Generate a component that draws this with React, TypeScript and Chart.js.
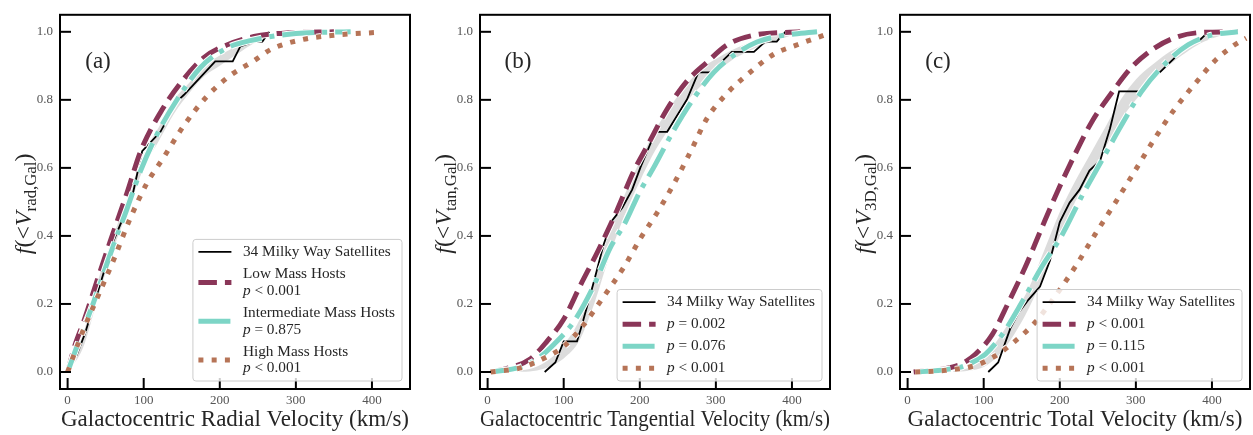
import React, { useEffect, useRef } from 'react';
import { Chart, registerables } from 'chart.js';
Chart.register(...registerables);

// ---------- shared axis data ----------
const X_MIN = -10;
const X_MAX = 450;
const Y_MIN = -0.05;
const Y_MAX = 1.05;
const X_STEP = 100;
const Y_STEP = 0.2;

// ---------- panel (a): radial velocity ----------
const radObsV = [0, 12, 23, 47, 60, 85, 98, 122, 144, 153, 194, 217, 227, 245, 256, 265];
const radObsF = [0, 0.05, 0.114, 0.289, 0.384, 0.517, 0.649, 0.706, 0.796, 0.815, 0.913, 0.913, 0.957, 0.971, 0.971, 1.0];
const radLowV = [0, 10, 21, 39, 56, 78, 96, 122, 148, 179, 210, 245, 290, 350];
const radLowF = [0, 0.081, 0.147, 0.27, 0.384, 0.526, 0.649, 0.763, 0.848, 0.924, 0.962, 0.986, 0.997, 1.0];
const radIntV = [0, 17, 34, 56, 78, 96, 118, 144, 175, 210, 240, 300, 372];
const radIntF = [0, 0.104, 0.204, 0.346, 0.479, 0.592, 0.701, 0.801, 0.896, 0.953, 0.974, 0.995, 1.0];
const radHighV = [0, 19, 39, 60, 82, 104, 126, 153, 183, 214, 245, 267, 306, 350, 405];
const radHighF = [0, 0.114, 0.218, 0.327, 0.45, 0.554, 0.63, 0.725, 0.81, 0.872, 0.915, 0.948, 0.976, 0.99, 0.998];
const radBandV = [0, 20, 40, 60, 80, 100, 120, 140, 160, 180, 200, 220, 240, 260];
const radBandLo = [0, 0.07, 0.22, 0.36, 0.48, 0.6, 0.68, 0.76, 0.82, 0.87, 0.9, 0.93, 0.96, 0.98];
const radBandHi = [0.01, 0.11, 0.27, 0.4, 0.52, 0.64, 0.72, 0.8, 0.85, 0.9, 0.93, 0.955, 0.975, 0.99];

// ---------- panel (b): tangential velocity ----------
const tanObsV = [75, 89, 100, 117.5, 124, 139, 152.5, 163.5, 177, 190, 201, 220.5, 236, 262, 277, 293, 321, 350, 365, 380, 391];
const tanObsF = [0, 0.028, 0.09, 0.09, 0.138, 0.26, 0.375, 0.445, 0.483, 0.536, 0.602, 0.706, 0.706, 0.801, 0.881, 0.881, 0.941, 0.941, 0.971, 0.971, 1.0];
const tanLowV = [4, 25, 56, 78, 100, 122, 146, 170, 192, 210, 236, 262, 288, 315, 350, 411];
const tanLowF = [0, 0.01, 0.038, 0.09, 0.155, 0.255, 0.36, 0.475, 0.59, 0.665, 0.773, 0.855, 0.91, 0.962, 0.99, 1.0];
const tanIntV = [4, 43, 65, 87, 113, 139, 160, 181, 200, 218, 244.5, 271, 297, 323, 354, 385, 433];
const tanIntF = [0, 0.014, 0.038, 0.081, 0.147, 0.251, 0.36, 0.44, 0.53, 0.6, 0.71, 0.805, 0.88, 0.93, 0.97, 0.988, 1.0];
const tanHighV = [4, 43, 72, 100, 126, 153, 179, 201, 223, 245, 267, 288, 315, 345, 376, 407, 442];
const tanHighF = [0, 0.012, 0.038, 0.075, 0.138, 0.223, 0.308, 0.393, 0.469, 0.554, 0.649, 0.744, 0.82, 0.881, 0.934, 0.962, 0.99];
const tanBandV = [40, 60, 80, 100, 120, 140, 160, 180, 200, 220, 240, 260, 280, 300, 320, 340, 360, 380, 400, 420];
const tanBandLo = [0, 0.003, 0.015, 0.04, 0.09, 0.2, 0.34, 0.46, 0.56, 0.65, 0.72, 0.79, 0.84, 0.88, 0.915, 0.94, 0.96, 0.975, 0.99, 1.0];
const tanBandHi = [0.004, 0.012, 0.035, 0.08, 0.15, 0.27, 0.41, 0.52, 0.62, 0.71, 0.78, 0.84, 0.89, 0.92, 0.945, 0.965, 0.98, 0.99, 1.0, 1.0];

// ---------- panel (c): total velocity ----------
const totObsV = [106, 119, 135, 146, 159, 174, 187, 200, 213, 226, 239, 253, 266, 278, 305, 325, 342.5, 373, 382, 395];
const totObsF = [0, 0.028, 0.128, 0.175, 0.213, 0.251, 0.327, 0.441, 0.498, 0.536, 0.592, 0.621, 0.716, 0.825, 0.825, 0.867, 0.905, 0.971, 0.971, 1.0];
const totLowV = [8, 50, 71, 89, 111, 132.5, 154.5, 176, 198, 220, 242, 268, 294.5, 325, 355.6, 386, 434];
const totLowF = [0, 0.01, 0.024, 0.052, 0.109, 0.204, 0.308, 0.422, 0.536, 0.64, 0.735, 0.82, 0.896, 0.953, 0.986, 0.998, 1.0];
const totIntV = [14.5, 50, 76, 102, 124, 150, 176, 203, 229, 255, 281, 307.6, 338, 369, 399.5, 434];
const totIntF = [0, 0.007, 0.019, 0.052, 0.109, 0.204, 0.308, 0.403, 0.517, 0.621, 0.725, 0.825, 0.905, 0.962, 0.99, 1.0];
const totHighV = [10, 50, 89, 115, 141, 168, 194, 220, 246, 273, 299, 325, 351, 378, 404, 430, 445];
const totHighF = [0, 0.005, 0.019, 0.047, 0.09, 0.147, 0.223, 0.308, 0.403, 0.498, 0.592, 0.687, 0.773, 0.848, 0.915, 0.962, 0.981];
const totBandV = [60, 80, 100, 120, 140, 160, 180, 200, 220, 240, 260, 280, 300, 320, 340, 360, 380, 400, 420];
const totBandLo = [0, 0.004, 0.015, 0.05, 0.11, 0.19, 0.29, 0.4, 0.5, 0.58, 0.66, 0.74, 0.8, 0.85, 0.895, 0.93, 0.96, 0.98, 0.995];
const totBandHi = [0.003, 0.012, 0.04, 0.1, 0.17, 0.25, 0.36, 0.47, 0.56, 0.64, 0.72, 0.8, 0.86, 0.9, 0.935, 0.96, 0.98, 0.995, 1.0];

// ---------- text ----------
const obsLabel = '34 Milky Way Satellites';
const legendA = [
  ['Low Mass Hosts', '< 0.001'],
  ['Intermediate Mass Hosts', '= 0.875'],
  ['High Mass Hosts', '< 0.001'],
];
const legendB = ['= 0.002', '= 0.076', '< 0.001'];
const legendC = ['< 0.001', '= 0.115', '< 0.001'];

// ---------- styles ----------
const SERIF = "'Liberation Serif', 'DejaVu Serif', serif";
const MAROON = '#8a3658';
const TEAL = '#7dd5c6';
const BROWN = '#b67457';
const STYLES: any = {
  obs: { color: '#000000', width: 1.8, dash: [] },
  low: { color: MAROON, width: 5, dash: [18.5, 8] },
  int: { color: TEAL, width: 5, dash: [32, 8, 5, 8] },
  high: { color: BROWN, width: 5, dash: [5, 8.25] },
};

type Seg = { t: string; it?: boolean; sub?: boolean };

function pts(v: number[], f: number[]) {
  return v.map((x, i) => ({ x, y: f[i] }));
}

function segFont(s: Seg, size: number) {
  const sz = s.sub ? size * 0.7 : size;
  return `${s.it ? 'italic ' : ''}${sz}px ${SERIF}`;
}

function richWidth(ctx: CanvasRenderingContext2D, segs: Seg[], size: number) {
  let w = 0;
  for (const s of segs) {
    ctx.font = segFont(s, size);
    w += ctx.measureText(s.t).width;
  }
  return w;
}

function drawRich(ctx: CanvasRenderingContext2D, segs: Seg[], x: number, y: number, size: number) {
  let cx = x;
  for (const s of segs) {
    ctx.font = segFont(s, size);
    ctx.fillText(s.t, cx, s.sub ? y + size * 0.28 : y);
    cx += ctx.measureText(s.t).width;
  }
}

type Entry = { style: string; lines: Seg[][] };

function drawLegend(ctx: CanvasRenderingContext2D, a: any, entries: Entry[]) {
  const fs = 15.3;
  const lineH = 16.7;
  const gap = 5.4;
  const padT = 4.2;
  const padB = 4.3;
  const heights = entries.map((e) => e.lines.length * lineH);
  const H = padT + padB + heights.reduce((p, c) => p + c, 0) + gap * (entries.length - 1);
  let tw = 0;
  entries.forEach((e) => e.lines.forEach((ln) => (tw = Math.max(tw, richWidth(ctx, ln, fs)))));
  const W = 5.5 + 33 + 11.5 + tw + 7;
  const right = a.right - 8;
  const bottom = a.bottom - 8;
  const left = right - W;
  const top = bottom - H;
  ctx.save();
  ctx.setLineDash([]);
  ctx.beginPath();
  (ctx as any).roundRect(left, top, W, H, 3);
  ctx.fillStyle = 'rgba(255,255,255,0.8)';
  ctx.fill();
  ctx.strokeStyle = '#cccccc';
  ctx.lineWidth = 1;
  ctx.stroke();
  let y = top + padT;
  entries.forEach((e, i) => {
    const h = heights[i];
    const cy = y + h / 2;
    const st = STYLES[e.style];
    ctx.strokeStyle = st.color;
    ctx.lineWidth = st.width;
    ctx.lineCap = 'butt';
    ctx.setLineDash(st.dash);
    ctx.beginPath();
    ctx.moveTo(left + 5.5, cy);
    ctx.lineTo(left + 38.5, cy);
    ctx.stroke();
    ctx.setLineDash([]);
    ctx.fillStyle = '#262626';
    ctx.textBaseline = 'middle';
    ctx.textAlign = 'left';
    e.lines.forEach((ln, k) => drawRich(ctx, ln, left + 50, y + lineH * (k + 0.5), fs));
    y += h + gap;
  });
  ctx.restore();
}

function makeDecor(letter: string, sub: string, entries: Entry[]) {
  return {
    id: 'decor',
    afterDatasetsDraw(chart: any) {
      const { ctx, chartArea: a, scales } = chart;
      ctx.save();
      ctx.strokeStyle = '#000';
      ctx.lineWidth = 2;
      ctx.setLineDash([]);
      ctx.lineCap = 'butt';
      // inward ticks
      scales.x.ticks.forEach((t: any) => {
        const px = scales.x.getPixelForValue(t.value);
        ctx.beginPath();
        ctx.moveTo(px, a.bottom);
        ctx.lineTo(px, a.bottom - 11);
        ctx.stroke();
      });
      scales.y.ticks.forEach((t: any) => {
        const py = scales.y.getPixelForValue(t.value);
        ctx.beginPath();
        ctx.moveTo(a.left, py);
        ctx.lineTo(a.left + 11, py);
        ctx.stroke();
      });
      ctx.strokeRect(a.left, a.top, a.right - a.left, a.bottom - a.top);
      // panel letter
      ctx.fillStyle = '#262626';
      ctx.font = `23px ${SERIF}`;
      ctx.textAlign = 'center';
      ctx.textBaseline = 'middle';
      ctx.fillText(letter, a.left + 38, a.top + 47);
      // y label
      const segs: Seg[] = [
        { t: 'f', it: true },
        { t: '(<' },
        { t: 'V', it: true },
        { t: sub, sub: true },
        { t: ')' },
      ];
      const size = 24;
      const w = richWidth(ctx, segs, size);
      ctx.save();
      ctx.translate(a.left - 35, (a.top + a.bottom) / 2 + 2);
      ctx.rotate(-Math.PI / 2);
      ctx.textAlign = 'left';
      ctx.textBaseline = 'middle';
      ctx.fillStyle = '#262626';
      drawRich(ctx, segs, -w / 2, 0, size);
      ctx.restore();
      ctx.restore();
      drawLegend(ctx, a, entries);
    },
  };
}

function lineDs(v: number[], f: number[], key: string, order: number, smooth: boolean) {
  const st = STYLES[key];
  return {
    data: pts(v, f),
    borderColor: st.color,
    borderWidth: st.width,
    borderDash: st.dash,
    borderCapStyle: 'butt',
    pointRadius: 0,
    fill: false,
    order,
    tension: 0,
    cubicInterpolationMode: smooth ? 'monotone' : 'default',
  };
}

function whiteDs(v: number[], f: number[], key: string, order: number) {
  const st = STYLES[key];
  return {
    data: pts(v, f),
    borderColor: '#ffffff',
    borderWidth: st.width + 2,
    borderDash: st.dash,
    borderCapStyle: 'butt',
    pointRadius: 0,
    fill: false,
    order,
    cubicInterpolationMode: 'monotone',
  };
}

type PanelDef = {
  areaLeft: number;
  areaRight: number;
  title: string;
  letter: string;
  sub: string;
  obs: [number[], number[]];
  low: [number[], number[]];
  int: [number[], number[]];
  high: [number[], number[]];
  band: [number[], number[], number[]];
  entries: Entry[];
};

const pLabel = (rest: string): Seg[] => [{ t: 'p', it: true }, { t: ' ' + rest }];

const PANELS: PanelDef[] = [
  {
    areaLeft: 60,
    areaRight: 410,
    title: 'Galactocentric Radial Velocity (km/s)',
    letter: '(a)',
    sub: 'rad,Gal',
    obs: [radObsV, radObsF],
    low: [radLowV, radLowF],
    int: [radIntV, radIntF],
    high: [radHighV, radHighF],
    band: [radBandV, radBandLo, radBandHi],
    entries: [
      { style: 'obs', lines: [[{ t: obsLabel }]] },
      { style: 'low', lines: [[{ t: legendA[0][0] }], pLabel(legendA[0][1])] },
      { style: 'int', lines: [[{ t: legendA[1][0] }], pLabel(legendA[1][1])] },
      { style: 'high', lines: [[{ t: legendA[2][0] }], pLabel(legendA[2][1])] },
    ],
  },
  {
    areaLeft: 480,
    areaRight: 830,
    title: 'Galactocentric Tangential Velocity (km/s)',
    letter: '(b)',
    sub: 'tan,Gal',
    obs: [tanObsV, tanObsF],
    low: [tanLowV, tanLowF],
    int: [tanIntV, tanIntF],
    high: [tanHighV, tanHighF],
    band: [tanBandV, tanBandLo, tanBandHi],
    entries: [
      { style: 'obs', lines: [[{ t: obsLabel }]] },
      { style: 'low', lines: [pLabel(legendB[0])] },
      { style: 'int', lines: [pLabel(legendB[1])] },
      { style: 'high', lines: [pLabel(legendB[2])] },
    ],
  },
  {
    areaLeft: 900,
    areaRight: 1250,
    title: 'Galactocentric Total Velocity (km/s)',
    letter: '(c)',
    sub: '3D,Gal',
    obs: [totObsV, totObsF],
    low: [totLowV, totLowF],
    int: [totIntV, totIntF],
    high: [totHighV, totHighF],
    band: [totBandV, totBandLo, totBandHi],
    entries: [
      { style: 'obs', lines: [[{ t: obsLabel }]] },
      { style: 'low', lines: [pLabel(legendC[0])] },
      { style: 'int', lines: [pLabel(legendC[1])] },
      { style: 'high', lines: [pLabel(legendC[2])] },
    ],
  },
];

const W_TOTAL = 1253;
const H_TOTAL = 435;

function buildConfig(p: PanelDef): any {
  const [bv, blo, bhi] = p.band;
  const datasets = [
    {
      data: pts(bv, blo),
      borderColor: 'rgba(0,0,0,0)',
      borderWidth: 1,
      pointRadius: 0,
      fill: false,
      order: 20,
      cubicInterpolationMode: 'monotone',
    },
    {
      data: pts(bv, bhi),
      borderColor: 'rgba(0,0,0,0)',
      borderWidth: 1,
      pointRadius: 0,
      fill: '-1',
      backgroundColor: 'rgba(205,205,205,0.7)',
      order: 20,
      cubicInterpolationMode: 'monotone',
    },
    lineDs(p.obs[0], p.obs[1], 'obs', 10, false),
    whiteDs(p.low[0], p.low[1], 'low', 9),
    lineDs(p.low[0], p.low[1], 'low', 8, true),
    whiteDs(p.int[0], p.int[1], 'int', 7),
    lineDs(p.int[0], p.int[1], 'int', 6, true),
    whiteDs(p.high[0], p.high[1], 'high', 5),
    lineDs(p.high[0], p.high[1], 'high', 4, true),
  ];
  const tickFont = { family: SERIF, size: 13 };
  return {
    type: 'line',
    data: { datasets },
    options: {
      animation: false,
      responsive: false,
      devicePixelRatio: 1,
      events: [],
      layout: { padding: { left: p.areaLeft - 60, right: W_TOTAL - p.areaRight, top: 3, bottom: 0 } },
      plugins: { legend: { display: false }, tooltip: { enabled: false } },
      scales: {
        x: {
          type: 'linear',
          min: X_MIN,
          max: X_MAX,
          grid: { display: false, drawTicks: false },
          border: { display: false },
          ticks: {
            stepSize: X_STEP,
            includeBounds: false,
            font: tickFont,
            color: '#555555',
            padding: 4,
            maxRotation: 0,
            callback: (v: number) => String(v),
          },
          title: {
            display: true,
            text: p.title,
            color: '#262626',
            font: { family: SERIF, size: 23 },
            padding: { top: 0, bottom: 1 },
          },
          afterFit: (s: any) => {
            s.height = 46;
          },
        },
        y: {
          type: 'linear',
          min: Y_MIN,
          max: Y_MAX,
          grid: { display: false, drawTicks: false },
          border: { display: false },
          ticks: {
            stepSize: Y_STEP,
            includeBounds: false,
            font: tickFont,
            color: '#555555',
            padding: 7,
            callback: (v: number) => v.toFixed(1),
          },
          afterFit: (s: any) => {
            s.width = 60;
          },
        },
      },
    },
    plugins: [makeDecor(p.letter, p.sub, p.entries)],
  };
}

function Panel({ def }: { def: PanelDef }) {
  const ref = useRef<HTMLCanvasElement>(null);
  useEffect(() => {
    if (!ref.current) return;
    const chart = new Chart(ref.current, buildConfig(def));
    return () => chart.destroy();
  }, [def]);
  return (
    <canvas
      ref={ref}
      width={W_TOTAL}
      height={H_TOTAL}
      style={{ position: 'absolute', left: 0, top: 0, width: W_TOTAL, height: H_TOTAL }}
    />
  );
}

export default function App() {
  return (
    <div
      style={{
        position: 'fixed',
        left: 0,
        top: 0,
        width: W_TOTAL,
        height: H_TOTAL,
        background: '#ffffff',
        overflow: 'hidden',
      }}
    >
      {PANELS.map((p, i) => (
        <Panel key={i} def={p} />
      ))}
    </div>
  );
}
